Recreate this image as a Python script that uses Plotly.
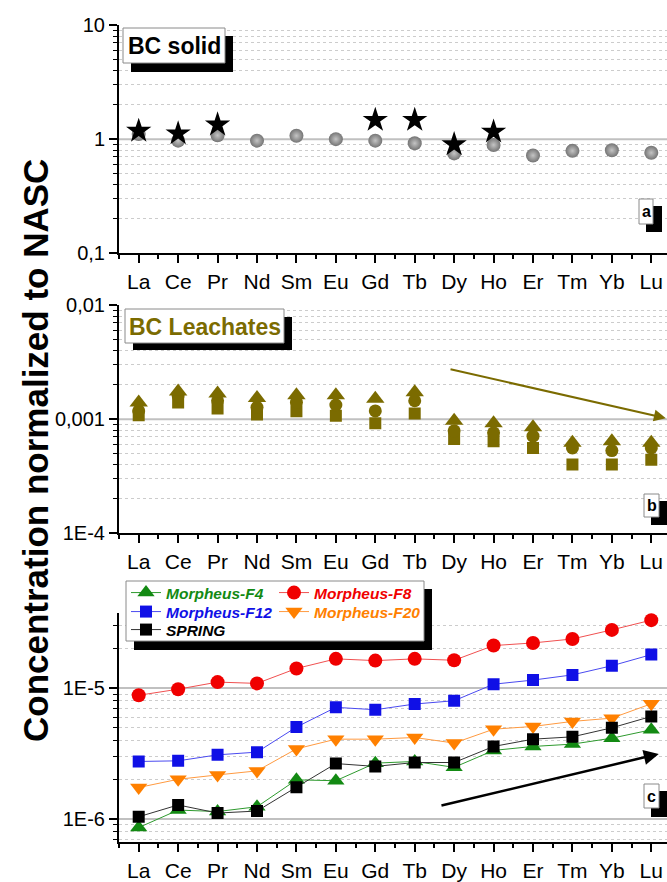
import plotly.graph_objects as go
import math

W, H = 667, 882

ree = ["La", "Ce", "Pr", "Nd", "Sm", "Eu", "Gd", "Tb", "Dy", "Ho", "Er", "Tm", "Yb", "Lu"]

# Panel a: BC solid
solid_spheres = [1.11, 0.97, 1.08, 0.97, 1.07, 1.00, 0.97, 0.92, 0.75, 0.89, 0.72, 0.79, 0.80, 0.76]
solid_stars = [1.18, 1.12, 1.34, None, None, None, 1.47, 1.47, 0.90, 1.16, None, None, None, None]

# Panel b: BC leachates
leach_tri = [1.40e-3, 1.75e-3, 1.68e-3, 1.53e-3, 1.62e-3, 1.62e-3, 1.51e-3, 1.72e-3,
             0.97e-3, 0.92e-3, 0.85e-3, 0.62e-3, 0.64e-3, 0.62e-3]
leach_circ = [1.18e-3, 1.60e-3, 1.45e-3, 1.27e-3, 1.40e-3, 1.33e-3, 1.18e-3, 1.45e-3,
              0.79e-3, 0.76e-3, 0.71e-3, 0.56e-3, 0.53e-3, 0.56e-3]
leach_sq = [1.08e-3, 1.40e-3, 1.24e-3, 1.10e-3, 1.17e-3, 1.07e-3, 0.92e-3, 1.12e-3,
            0.67e-3, 0.64e-3, 0.56e-3, 0.40e-3, 0.40e-3, 0.44e-3]

# Panel c: waters
f4 = [8.6e-7, 1.17e-6, 1.14e-6, 1.24e-6, 1.99e-6, 1.96e-6, 2.67e-6, 2.75e-6,
      2.48e-6, 3.34e-6, 3.58e-6, 3.73e-6, 4.14e-6, 4.80e-6]
f8 = [8.8e-6, 9.8e-6, 1.11e-5, 1.085e-5, 1.41e-5, 1.67e-5, 1.62e-5, 1.67e-5,
      1.63e-5, 2.11e-5, 2.21e-5, 2.37e-5, 2.78e-5, 3.30e-5]
f12 = [2.75e-6, 2.78e-6, 3.09e-6, 3.24e-6, 5.03e-6, 7.12e-6, 6.83e-6, 7.55e-6,
       8.0e-6, 1.07e-5, 1.15e-5, 1.26e-5, 1.48e-5, 1.80e-5]
f20 = [1.74e-6, 2.01e-6, 2.17e-6, 2.33e-6, 3.43e-6, 4.07e-6, 4.07e-6, 4.19e-6,
       3.80e-6, 4.85e-6, 5.09e-6, 5.56e-6, 5.89e-6, 7.58e-6]
spring = [1.04e-6, 1.28e-6, 1.11e-6, 1.15e-6, 1.75e-6, 2.65e-6, 2.52e-6, 2.70e-6,
          2.70e-6, 3.58e-6, 4.07e-6, 4.24e-6, 4.97e-6, 6.07e-6]

series_names = ["Morpheus-F4", "Morpheus-F8", "Morpheus-F12", "Morpheus-F20", "SPRING"]

# trend arrows (element index, value): start -> end
arrow_b = [(7.87, 2.75e-3), (13.37, 1.02e-3)]
arrow_c = [(7.64, 1.26e-6), (13.19, 3.14e-6)]

OLIVE = "#7B6B00"
FONT = "Liberation Sans, Arial, sans-serif"

xs = list(range(len(ree)))


def px(x):
    return x / W


def py(y):
    return 1 - y / H


fig = go.Figure()

# panel a
fig.add_trace(go.Scatter(x=xs, y=solid_spheres, mode="markers", xaxis="x", yaxis="y",
                         marker=dict(symbol="circle", size=14, color="#747474",
                                     line=dict(width=0),
                                     gradient=dict(type="radial", color="#c4c4c4")),
                         showlegend=False))
fig.add_trace(go.Scatter(x=xs, y=solid_stars, mode="markers", xaxis="x", yaxis="y",
                         marker=dict(symbol="star", size=19, color="black", line=dict(width=0)),
                         showlegend=False))

# panel b
fig.add_trace(go.Scatter(x=xs, y=leach_sq, mode="markers", xaxis="x2", yaxis="y2",
                         marker=dict(symbol="square", size=12, color=OLIVE, line=dict(width=0)),
                         showlegend=False))
fig.add_trace(go.Scatter(x=xs, y=leach_circ, mode="markers", xaxis="x2", yaxis="y2",
                         marker=dict(symbol="circle", size=13, color=OLIVE, line=dict(width=0)),
                         showlegend=False))
fig.add_trace(go.Scatter(x=xs, y=leach_tri, mode="markers", xaxis="x2", yaxis="y2",
                         marker=dict(symbol="triangle-up", size=16, color=OLIVE, line=dict(width=0)),
                         showlegend=False))

# panel c
specs = [
    (f4, "#138A13", "#2e9a2e", "triangle-up", 15, "legend"),
    (f8, "#F00000", "#f05050", "circle", 14, "legend2"),
    (f12, "#1010E6", "#4a4af0", "square", 12, "legend3"),
    (f20, "#FF8000", "#ff9a40", "triangle-down", 15, "legend4"),
    (spring, "#000000", "#333333", "square", 12, "legend5"),
]
for (vals, mc, lc, sym, sz, lg), name in zip(specs, series_names):
    fig.add_trace(go.Scatter(
        x=xs, y=vals, mode="lines+markers", xaxis="x3", yaxis="y3",
        line=dict(color=lc, width=1),
        marker=dict(symbol=sym, size=sz, color=mc, line=dict(width=0)),
        name="<b><i><span style='color:%s'>%s</span></i></b>" % (mc, name),
        legend=lg, showlegend=True))


def minor_vals(lo, hi):
    out = []
    for k in range(int(math.floor(lo)) - 1, int(math.ceil(hi)) + 1):
        for m in range(2, 10):
            v = m * 10 ** k
            lv = math.log10(v)
            if lo < lv < hi:
                out.append(v)
    return out


xdom = [px(119), 1.0]
xr = [-0.5, 13.5 - (671 - W) / 39.4]


def xaxis(anchor):
    return dict(domain=xdom, range=xr, anchor=anchor, tickmode="array", tickvals=xs, ticktext=ree,
                ticks="outside", ticklen=8, tickwidth=1.5, tickcolor="black",
                showline=True, linecolor="black", linewidth=2, showgrid=False, zeroline=False,
                tickfont=dict(family=FONT, size=21, color="black"),
                minor=dict(tickvals=[i + 0.5 for i in range(-1, 14)], ticks="outside", ticklen=4,
                           tickwidth=1.5, tickcolor="black", showgrid=False))


def yaxis(anchor, dom, rng, tv, tt):
    return dict(domain=dom, range=rng, type="log", anchor=anchor, tickmode="array",
                tickvals=tv, ticktext=tt, ticks="outside", ticklen=8, tickwidth=1.5,
                tickcolor="black", showline=True, linecolor="black", linewidth=2,
                showgrid=False, zeroline=False,
                tickfont=dict(family=FONT, size=20, color="black"),
                minor=dict(tickvals=minor_vals(rng[0], rng[1]), ticks="outside", ticklen=4,
                           tickwidth=1, tickcolor="black", showgrid=True, gridcolor="#cccccc",
                           griddash="dot", gridwidth=1))


ya_rng = [-1, 1]
yb_rng = [-4, -2]
yc_rng = [-6.178, -4.427]

layout = dict(
    width=W, height=H, margin=dict(l=0, r=0, t=0, b=0, autoexpand=False),
    paper_bgcolor="white", plot_bgcolor="white",
    font=dict(family=FONT, color="black"),
    xaxis=xaxis("y"), xaxis2=xaxis("y2"), xaxis3=xaxis("y3"),
    yaxis=yaxis("x", [py(253.3), py(25)], ya_rng, [0.1, 1, 10], ["0,1", "1", "10"]),
    yaxis2=yaxis("x2", [py(533.3), py(305)], yb_rng, [1e-4, 1e-3, 1e-2], ["1E-4", "0,001", "0,01"]),
    yaxis3=yaxis("x3", [py(842.3), py(613)], yc_rng, [1e-6, 1e-5], ["1E-6", "1E-5"]),
)

rows_y = [593, 593, 612, 612, 630]
cols_x = [126, 274, 126, 274, 126]
for i, lg in enumerate(["legend", "legend2", "legend3", "legend4", "legend5"]):
    layout[lg] = dict(x=px(cols_x[i]), y=py(rows_y[i]), xanchor="left", yanchor="middle",
                      bgcolor="rgba(0,0,0,0)", borderwidth=0,
                      font=dict(family=FONT, size=15.5, color="black"))

fig.update_layout(**layout)

shapes = []


def box(x0, y0, x1, y1, sx1, sy1, off=8):
    # shadow then white box
    shapes.append(dict(type="rect", xref="paper", yref="paper", x0=px(x0 + off), x1=px(sx1),
                       y0=py(sy1), y1=py(y0 + off), fillcolor="black", line=dict(width=0), layer="above"))
    shapes.append(dict(type="rect", xref="paper", yref="paper", x0=px(x0), x1=px(x1),
                       y0=py(y1), y1=py(y0), fillcolor="white", line=dict(color="#8a8a8a", width=1),
                       layer="above"))


# decade reference lines
for yref, vals in [("y", [1]), ("y2", [1e-3]), ("y3", [1e-5, 1e-6])]:
    for v in vals:
        shapes.append(dict(type="line", xref=yref.replace("y", "x") + " domain", yref=yref,
                           x0=0, x1=1, y0=v, y1=v, line=dict(color="#c0c0c0", width=2), layer="below"))

box(123, 28, 225, 63, 233, 72)
box(125, 309, 284, 343, 292, 350)
box(639, 199, 653, 224, 662, 232, off=7)
box(644, 494, 659, 517, 667, 525, off=7)
box(644, 784, 659, 808, 667, 817, off=7)
box(126, 581, 424, 641, 432, 650, off=8)


def label(text, x, y, size, color="black", angle=0):
    return dict(text=text, x=px(x), y=py(y), xref="paper", yref="paper", showarrow=False,
                xanchor="center", yanchor="middle", textangle=angle,
                font=dict(family=FONT, size=size, color=color))


annotations = [
    label("<b>BC solid</b>", 174, 46, 23),
    label("<b>BC Leachates</b>", 204.5, 326.5, 23, OLIVE),
    label("<b>a</b>", 646, 211.5, 16),
    label("<b>b</b>", 651.5, 505.5, 16),
    label("<b>c</b>", 651.5, 796, 16),
    label("<b>Concentration normalized to NASC</b>", 35, 451, 35, angle=-90),
    dict(x=arrow_b[1][0], y=math.log10(arrow_b[1][1]), ax=arrow_b[0][0], ay=math.log10(arrow_b[0][1]),
         xref="x2", yref="y2", axref="x2", ayref="y2", showarrow=True, arrowhead=2, arrowsize=1.2,
         arrowwidth=2, arrowcolor=OLIVE, text=""),
    dict(x=arrow_c[1][0], y=math.log10(arrow_c[1][1]), ax=arrow_c[0][0], ay=math.log10(arrow_c[0][1]),
         xref="x3", yref="y3", axref="x3", ayref="y3", showarrow=True, arrowhead=2, arrowsize=1.2,
         arrowwidth=2.5, arrowcolor="black", text=""),
]

fig.update_layout(shapes=shapes, annotations=annotations)
fig.write_html("out.html", config={"displayModeBar": False},
               post_script="document.body.style.margin='0';")
